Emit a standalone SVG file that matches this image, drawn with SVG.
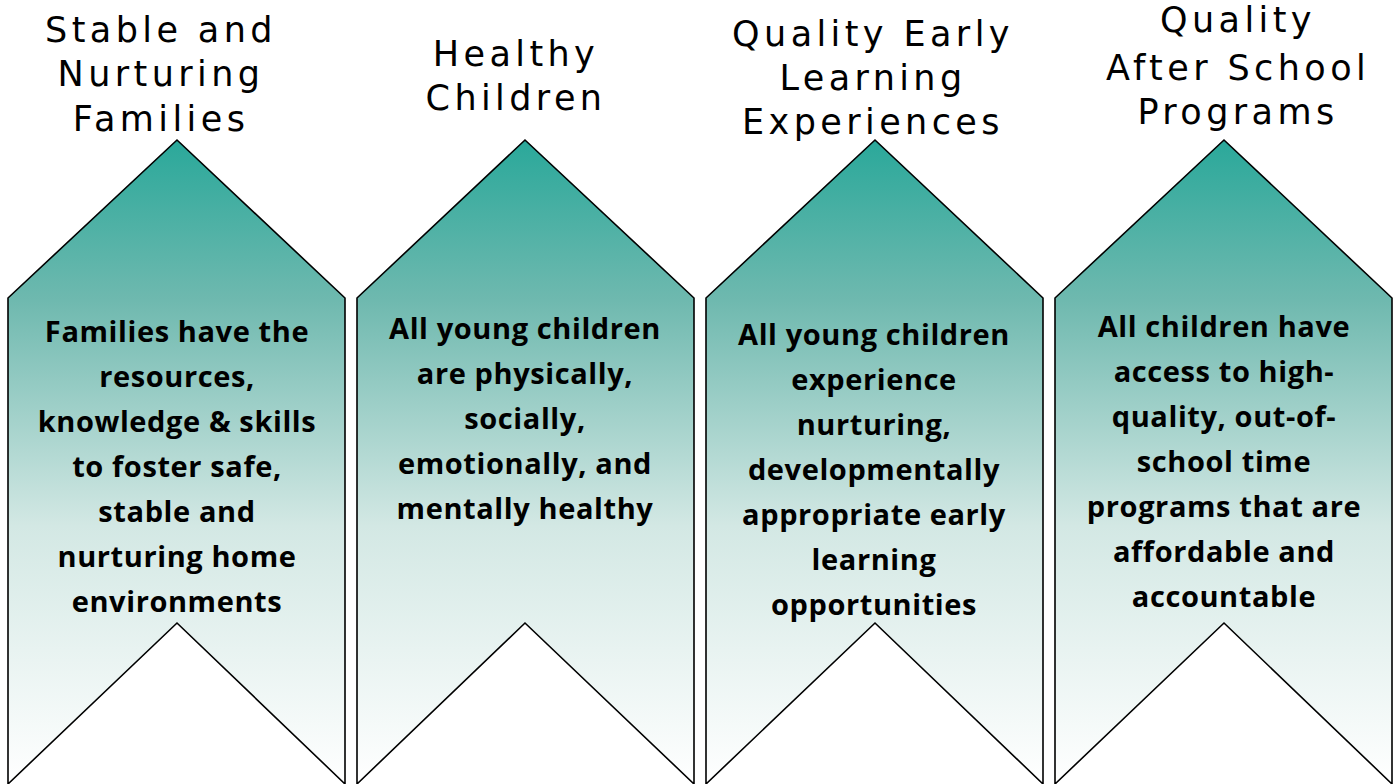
<svg xmlns="http://www.w3.org/2000/svg" width="1399" height="784" viewBox="0 0 1399 784">
<style>
.shape{stroke:#000;stroke-width:1.6;fill:url(#g)}
.title{font-family:"DejaVu Sans",sans-serif;font-size:35px;letter-spacing:4.4px;fill:#000;text-anchor:middle}
.body{font-family:"Open Sans","Liberation Sans",sans-serif;font-weight:bold;font-size:29px;letter-spacing:0.6px;fill:#000;text-anchor:middle}
</style>
<defs>
<linearGradient id="g" gradientUnits="userSpaceOnUse" x1="0" y1="140" x2="0" y2="784">
<stop offset="0" stop-color="#2AA89A"/>
<stop offset="0.25" stop-color="#6FB9AF"/>
<stop offset="0.6" stop-color="#D3E8E4"/>
<stop offset="1" stop-color="#FFFFFF"/>
</linearGradient>
</defs>
<rect width="1399" height="784" fill="#fff"/>
<g id="node1">
<path class="shape" d="M8,298 L177,140 L345,298 L345,784 L177,623 L8,784 Z"/>
<text class="title" x="161" y="42">Stable and</text>
<text class="title" x="161" y="86">Nurturing</text>
<text class="title" x="161" y="131">Families</text>
<text class="body"><tspan x="177" y="342">Families have the</tspan><tspan x="177" y="387">resources,</tspan><tspan x="177" y="432">knowledge &amp; skills</tspan><tspan x="177" y="477">to foster safe,</tspan><tspan x="177" y="522">stable and</tspan><tspan x="177" y="567">nurturing home</tspan><tspan x="177" y="612">environments</tspan></text>
</g>
<g id="node2">
<path class="shape" d="M357,298 L525,140 L694,298 L694,784 L525,623 L357,784 Z"/>
<text class="title" x="516" y="66">Healthy</text>
<text class="title" x="516" y="110">Children</text>
<text class="body"><tspan x="525" y="339">All young children</tspan><tspan x="525" y="384">are physically,</tspan><tspan x="525" y="429">socially,</tspan><tspan x="525" y="474">emotionally, and</tspan><tspan x="525" y="519">mentally healthy</tspan></text>
</g>
<g id="node3">
<path class="shape" d="M706,298 L875,140 L1043,298 L1043,784 L875,623 L706,784 Z"/>
<text class="title" x="873" y="46">Quality Early</text>
<text class="title" x="873" y="90">Learning</text>
<text class="title" x="873" y="134">Experiences</text>
<text class="body"><tspan x="874" y="345">All young children</tspan><tspan x="874" y="390">experience</tspan><tspan x="874" y="435">nurturing,</tspan><tspan x="874" y="480">developmentally</tspan><tspan x="874" y="525">appropriate early</tspan><tspan x="874" y="570">learning</tspan><tspan x="874" y="615">opportunities</tspan></text>
</g>
<g id="node4">
<path class="shape" d="M1055,298 L1224,140 L1392,298 L1392,784 L1224,623 L1055,784 Z"/>
<text class="title" x="1238" y="32">Quality</text>
<text class="title" x="1238" y="80">After School</text>
<text class="title" x="1238" y="124">Programs</text>
<text class="body"><tspan x="1224" y="337">All children have</tspan><tspan x="1224" y="382">access to high-</tspan><tspan x="1224" y="427">quality, out-of-</tspan><tspan x="1224" y="472">school time</tspan><tspan x="1224" y="517">programs that are</tspan><tspan x="1224" y="562">affordable and</tspan><tspan x="1224" y="607">accountable</tspan></text>
</g>
<g id="connectors"/>
</svg>
